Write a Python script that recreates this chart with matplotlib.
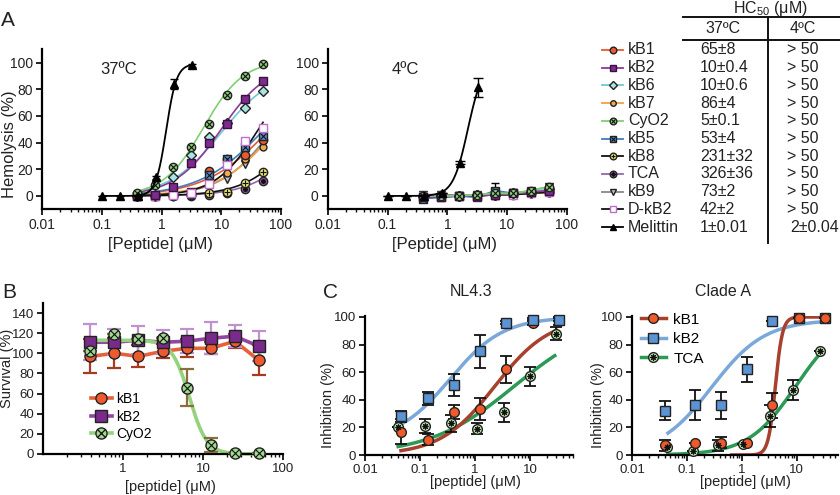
import numpy as np
import matplotlib
matplotlib.use('Agg')
import matplotlib.pyplot as plt
from matplotlib.lines import Line2D
from matplotlib.ticker import FixedLocator, FixedFormatter, LogLocator, NullFormatter
from matplotlib.legend_handler import HandlerTuple

plt.rcParams['font.family'] = ['Liberation Sans', 'DejaVu Sans']
plt.rcParams['mathtext.fontset'] = 'custom'
plt.rcParams['mathtext.rm'] = 'Liberation Sans'
plt.rcParams['mathtext.it'] = 'Liberation Sans:italic'

# ------------------------------------------------------------------ data
peptides = ['kB1', 'kB2', 'kB6', 'kB7', 'CyO2', 'kB5', 'kB8', 'TCA', 'kB9', 'D-kB2']
table_names = ['kB1', 'kB2', 'kB6', 'kB7', 'CyO2', 'kB5', 'kB8', 'TCA', 'kB9', 'D-kB2', 'Melittin']
hc50_37 = ['65±8', '10±0.4', '10±0.6', '86±4', '5±0.1', '53±4', '231±32', '326±36', '73±2', '42±2', '1±0.01']
hc50_4 = ['> 50', '> 50', '> 50', '> 50', '> 50', '> 50', '> 50', '> 50', '> 50', '> 50', '2±0.04']

conc_A = [0.39, 0.78, 1.56, 3.125, 6.25, 12.5, 25, 50]
conc_mel = [0.1, 0.2, 0.4, 0.8, 1.6, 3.2]

# hemolysis at 37 C (%)
h37_kB1 = [0, 0, 1, 2, 19, 28, 31, 42]
h37_kB2 = [0, 1, 7, 25, 40, 54, 73, 86]
h37_kB6 = [0, 1, 14, 31, 44, 55, 66, 79]
h37_kB7 = [0, 0, 0, 1, 12, 17, 28, 37]
h37_CyO2 = [2, 8, 22, 37, 54, 76, 90, 99]
h37_kB5 = [0, 0, 1, 3, 16, 28, 37, 45]
h37_kB8 = [0, 0, 0, 1, 2, 3, 10, 18]
h37_TCA = [0, 0, 0, 0, 1, 2, 5, 11]
h37_kB9 = [0, 0, 0, 1, 10, 13, 24, 40]
h37_DkB2 = [0, 0, 1, 2.5, 9, 23, 41, 51]
h37_mel = [0, 0, 0, 14, 84, 98]
h37_mel_err = [0, 0, 0, 1, 4, 1]

# hemolysis at 4 C (%)
h4_kB1 = [0, 0, 0, 0.5, 1, 1.5, 2, 3]
h4_kB2 = [-1, -1, 0, 0, 1, 2, 3, 4]
h4_kB6 = [0, 0, 0, 1, 1, 2, 3, 5]
h4_kB7 = [0, 0, 0, 0, 1, 1, 2, 3]
h4_CyO2 = [0, 0, 0, 1, 2, 2, 4, 7]
h4_kB5 = [-2, -1, 0, -1, 4, 2, 3, 4]
h4_kB8 = [0, 1, 0, 1, 1, 1, 2, 3]
h4_TCA = [-1, 0, 0, 1, 1, 2, 2, 3]
h4_kB9 = [1, 1, 0, 1, 2, 2, 4, 7]
h4_DkB2 = [0, 0, 0, 0, 1, 1, 2, 3]
h4_mel = [0, 0, 0, 2, 25, 81.5]
h4_mel_err = [0, 0, 0, 0, 1, 7]
h4_kB5_err = [0, 0, 0, 0, 6, 0, 0, 0]

# fitted dose-response parameters: [bottom, top, EC50, hill]
fit37_kB1 = [0, 100, 65, 0.8]
fit37_kB2 = [0, 100, 10, 1.1]
fit37_kB6 = [0, 95, 10, 1.0]
fit37_kB7 = [0, 100, 86, 0.9]
fit37_CyO2 = [0, 102, 5, 1.3]
fit37_kB5 = [0, 100, 53, 0.8]
fit37_kB8 = [0, 100, 231, 1.0]
fit37_TCA = [0, 100, 326, 1.0]
fit37_kB9 = [0, 100, 73, 1.0]
fit37_DkB2 = [0, 100, 42, 1.2]
fit37_mel = [0, 99, 1.2, 5]
fit4_mel = [0, 100, 2.2, 3.5]

# cell survival (%)
conc_B = [0.39, 0.78, 1.56, 3.125, 6.25, 12.5, 25, 50]
surv_kB1 = [97, 100, 97, 102, 105, 105, 112, 93]
surv_kB1_err = [17, 15, 11, 7, 9, 6, 7, 15]
surv_kB2 = [111, 111, 113, 111, 112, 115, 117, 107]
surv_kB2_err = [18, 13, 14, 12, 12, 16, 11, 15]
surv_CyO2 = [102, 119, 114, 115, 66, 9, 0.5, 0.5]
surv_CyO2_err = [0, 0, 0, 0, 18, 7, 0, 0]
fitB_CyO2 = [0, 113, 6.75, -4]

# HIV inhibition NL4.3 (%)
c1_conc = [0.046, 0.137, 0.41, 1.23, 3.7, 11.1, 33.3]
c1_conc_TCA = [0.04, 0.123, 0.37, 1.1, 3.3, 10, 30]
c1_kB1 = [17, 11, 31, 33, 62, 96, 97]
c1_kB1_err = [9, 4, 5, 8, 10, 2, 3]
c1_kB2 = [28, 41, 51, 75, 96, 98, 98]
c1_kB2_err = [4, 5, 8, 12, 1, 1, 1]
c1_TCA = [20.5, 21, 23, 19, 31, 57, 88]
c1_TCA_err = [0, 5, 6, 4, 7, 7, 5]
fitC1_kB1 = [0, 100, 2.3, 0.87]
fitC1_kB2 = [10, 100, 0.35, 0.9]
fitC1_TCA = [0, 100, 5.2, 0.56]

# HIV inhibition Clade A (%)
c2_conc = [0.04, 0.14, 0.42, 1.25, 3.6, 11, 33]
c2_conc_TCA = [0.043, 0.13, 0.37, 1.05, 3.2, 8.5, 26]
c2_kB1 = [7, 8.5, 9, 8.5, 36, 99, 99]
c2_kB1_err = [4, 0, 4, 0, 9, 0, 0]
c2_kB2 = [32, 36, 36, 62, 97, 99, 99]
c2_kB2_err = [7, 11, 10, 9, 0, 0, 0]
c2_TCA = [6, 3, 7, 8, 28, 47, 75]
c2_TCA_err = [0, 0, 4, 0, 8, 7, 0]
fitC2_kB1 = [0, 100, 4.06, 6.7]
fitC2_kB2 = [0, 98, 0.28, 0.9]
fitC2_TCA = [0, 100, 9.6, 1.0]

h37 = dict(zip(peptides, [h37_kB1, h37_kB2, h37_kB6, h37_kB7, h37_CyO2, h37_kB5,
                          h37_kB8, h37_TCA, h37_kB9, h37_DkB2]))
h4 = dict(zip(peptides, [h4_kB1, h4_kB2, h4_kB6, h4_kB7, h4_CyO2, h4_kB5,
                         h4_kB8, h4_TCA, h4_kB9, h4_DkB2]))
fit37 = dict(zip(peptides, [fit37_kB1, fit37_kB2, fit37_kB6, fit37_kB7, fit37_CyO2,
                            fit37_kB5, fit37_kB8, fit37_TCA, fit37_kB9, fit37_DkB2]))


def hill(x, bottom, top, ec50, n):
    x = np.asarray(x, float)
    return bottom + (top - bottom) / (1.0 + (ec50 / x) ** n)


def grid(lo, hi):
    return np.logspace(np.log10(lo), np.log10(hi), 300)


# ------------------------------------------------------------------ styles
STY = {
    'kB1': dict(line='#e65a32', fc='#ec5a2c', ec='#222222', m='o', ms=6.0, over=None),
    'kB2': dict(line='#8b3a98', fc='#7b2c8c', ec='#3a1040', m='s', ms=6.0, over=None),
    'kB6': dict(line='#70c8d0', fc='#a8e4e4', ec='#222222', m='D', ms=5.2, over=None),
    'kB7': dict(line='#f0a040', fc='#f5a94e', ec='#222222', m='o', ms=5.0, over=None),
    'CyO2': dict(line='#7fcf72', fc='#8fd07a', ec='#222222', m='o', ms=6.0, over='x'),
    'kB5': dict(line='#3f7cc0', fc='#5a8fcc', ec='#222222', m='s', ms=6.0, over='x'),
    'kB8': dict(line='#111111', fc='#e8e46a', ec='#222222', m='o', ms=6.0, over='+'),
    'TCA': dict(line='#9a66aa', fc='#9a5aaa', ec='#222222', m='o', ms=6.0, over=(8, 2, 0)),
    'kB9': dict(line='#888888', fc='#c4c4c4', ec='#222222', m='v', ms=6.0, over=None),
    'D-kB2': dict(line='#111111', fc='#ffffff', ec='#c070c8', m='s', ms=6.0, over=None),
    'Melittin': dict(line='#000000', fc='#000000', ec='#000000', m='^', ms=6.0, over=None),
}
draw_order = ['TCA', 'kB8', 'kB9', 'kB7', 'kB1', 'kB5', 'D-kB2', 'kB6', 'kB2', 'CyO2']

W, H = 840, 495
fig = plt.figure(figsize=(W / 100, H / 100), dpi=100)


def px_axes(l, t, r, b):
    return fig.add_axes([l / W, 1 - b / H, (r - l) / W, (b - t) / H])


def style_axes(ax, xlim, ylim, yticks, xticks, xlabels, tsize=10):
    ax.set_xscale('log')
    ax.set_xlim(*xlim)
    ax.set_ylim(*ylim)
    for sp in ['top', 'right']:
        ax.spines[sp].set_visible(False)
    for sp in ['left', 'bottom']:
        ax.spines[sp].set_linewidth(1.6)
    ax.set_yticks(yticks)
    ax.xaxis.set_major_locator(FixedLocator(xticks))
    ax.xaxis.set_major_formatter(FixedFormatter(xlabels))
    ax.xaxis.set_minor_locator(LogLocator(base=10, subs=np.arange(2, 10), numticks=30))
    ax.xaxis.set_minor_formatter(NullFormatter())
    ax.tick_params(which='major', direction='out', length=4.5, width=1.3,
                   labelsize=tsize, pad=2, color='#111111', labelcolor='#222222')
    ax.tick_params(which='minor', direction='out', length=2.5, width=1.0, color='#111111')
    ax.patch.set_visible(False)


def marker(ax, x, y, s, scale=1.0, z=3):
    ax.plot(x, y, ls='none', marker=s['m'], ms=s['ms'] * scale, mfc=s['fc'],
            mec=s['ec'], mew=1.0, zorder=z, clip_on=False)
    if s['over'] is not None:
        osz = 0.72 if s['over'] != (8, 2, 0) else 0.6
        ax.plot(x, y, ls='none', marker=s['over'], ms=s['ms'] * scale * osz,
                mec='#111111', mew=0.8, zorder=z + 0.1, clip_on=False)


# ------------------------------------------------------------------ panel A
axA1 = px_axes(42, 49.3, 281, 209.3)
axA2 = px_axes(327.7, 49.3, 567, 209.3)
for ax in (axA1, axA2):
    style_axes(ax, (0.01, 100), (-10, 110), [0, 20, 40, 60, 80, 100],
               [0.01, 0.1, 1, 10, 100], ['0.01', '0.1', '1', '10', '100'], tsize=10)

# 37 C
for i, name in enumerate(draw_order):
    s = STY[name]
    xx = grid(conc_A[0], conc_A[-1])
    axA1.plot(xx, hill(xx, *fit37[name]), color=s['line'], lw=1.2, zorder=2)
for i, name in enumerate(draw_order):
    marker(axA1, conc_A, h37[name], STY[name], z=3 + i * 0.2)
xx = grid(conc_mel[0], conc_mel[-1])
axA1.plot(xx, hill(xx, *fit37_mel), color='k', lw=1.3, zorder=5)
axA1.errorbar(conc_mel, h37_mel, yerr=h37_mel_err, fmt='none', ecolor='k',
              elinewidth=1.0, capsize=3, capthick=1.0, zorder=5)
marker(axA1, conc_mel, h37_mel, STY['Melittin'], z=6)
axA1.text(0.093, 94.5, '37ºC', fontsize=12, ha='left', va='center', color='#222222')

# 4 C
for i, name in enumerate(draw_order):
    s = STY[name]
    axA2.plot(conc_A, h4[name], color=s['line'], lw=1.3, zorder=2)
axA2.errorbar(conc_A, h4_kB5, yerr=h4_kB5_err, fmt='none', ecolor='k',
              elinewidth=1.0, capsize=3, capthick=1.0, zorder=3)
for i, name in enumerate(draw_order):
    marker(axA2, conc_A, h4[name], STY[name], z=3 + i * 0.2)
xx = grid(conc_mel[0], conc_mel[-1])
axA2.plot(xx, hill(xx, *fit4_mel), color='k', lw=1.3, zorder=5)
axA2.errorbar(conc_mel, h4_mel, yerr=h4_mel_err, fmt='none', ecolor='k',
              elinewidth=1.0, capsize=3.5, capthick=1.0, zorder=5)
marker(axA2, conc_mel, h4_mel, STY['Melittin'], z=6)
axA2.text(0.118, 94.5, '4ºC', fontsize=12, ha='left', va='center', color='#222222')

axA1.set_ylabel('Hemolysis (%)', fontsize=12, color='#222222')
axA1.yaxis.set_label_coords(-0.134, 0.41)
axA1.yaxis.label.set_va('center')
for ax, xc in ((axA1, 0.494), (axA2, 0.49)):
    ax.set_xlabel('[Peptide] (μM)', fontsize=12, color='#222222')
    ax.xaxis.set_label_coords(xc, -0.223)
    ax.xaxis.label.set_va('center')

# ------------------------------------------------------------------ panel B
axB = px_axes(43, 303, 283, 454)
style_axes(axB, (0.1, 100), (0, 150), [0, 20, 40, 60, 80, 100, 120, 140],
           [1, 10, 100], ['1', '10', '100'], tsize=9.5)
colB = {'kB1': ('#e8603a', '#ee5a30', '#a83a22'),
        'kB2': ('#9444a4', '#7a2a8a', '#bf92cf'),
        'CyO2': ('#94d27e', '#a2d890', '#8a6d3a')}
axB.plot(conc_B, surv_kB1, color=colB['kB1'][0], lw=2.6, zorder=2, clip_on=False)
axB.plot(conc_B, surv_kB2, color=colB['kB2'][0], lw=2.6, zorder=2, clip_on=False)
xx = grid(conc_B[0], conc_B[-1])
axB.plot(xx, hill(xx, *fitB_CyO2), color=colB['CyO2'][0], lw=2.6, zorder=2, clip_on=False)
for y, e, key, m, ovm in ((surv_kB1, surv_kB1_err, 'kB1', 'o', None),
                          (surv_kB2, surv_kB2_err, 'kB2', 's', None),
                          (surv_CyO2, surv_CyO2_err, 'CyO2', 'o', 'x')):
    axB.errorbar(conc_B, y, yerr=e, fmt='none', ecolor=colB[key][2], elinewidth=1.6,
                 capsize=5, capthick=1.6, zorder=3, clip_on=False)
    sB = dict(m=m, fc=colB[key][1], ec='#222222', ms=8.0, over=ovm)
    marker(axB, conc_B, y, sB, z=4)
hB = []
for key, m, ovm in (('kB1', 'o', None), ('kB2', 's', None), ('CyO2', 'o', 'x')):
    base = Line2D([], [], color=colB[key][0], lw=2.6, marker=m, ms=8, mfc=colB[key][1],
                  mec='#222222', mew=1.0)
    if ovm:
        hB.append((base, Line2D([], [], ls='none', marker=ovm, ms=5.8, mec='#111111', mew=0.9)))
    else:
        hB.append((base,))
axB.legend(hB, ['kB1', 'kB2', 'CyO2'], loc='upper left', bbox_to_anchor=(0.2, 0.41),
           frameon=False, fontsize=10, handlelength=1.5, handletextpad=0.3,
           labelspacing=0.25, borderpad=0, borderaxespad=0,
           handler_map={tuple: HandlerTuple(ndivide=1)})
axB.set_xlabel('[peptide] (μM)', fontsize=10.5, color='#222222')
axB.xaxis.set_label_coords(0.53, -0.22)
axB.xaxis.label.set_va('center')
axB.set_ylabel('Survival (%)', fontsize=10.5, color='#222222')
axB.yaxis.set_label_coords(-0.152, 0.57)
axB.yaxis.label.set_va('center')

# ------------------------------------------------------------------ panel C
colC = {'kB1': ('#a8402e', '#ee5a2a', 'o', None),
        'kB2': ('#7aa8d8', '#5b93d3', 's', None),
        'TCA': ('#2a9a55', '#b8e0a8', 'o', (8, 2, 0))}


def draw_C(ax, series):
    for key, xs, ys, es, fit in series:
        line, fc, m, ovm = colC[key]
        xx = grid(fit[4], fit[5])
        ax.plot(xx, hill(xx, *fit[:4]), color=line, lw=2.5, zorder=2)
    for key, xs, ys, es, fit in series:
        line, fc, m, ovm = colC[key]
        ax.errorbar(xs, ys, yerr=es, fmt='none', ecolor='#111111', elinewidth=1.3,
                    capsize=4.5, capthick=1.3, zorder=3, clip_on=False)
        sC = dict(m=m, fc=fc, ec='#222222', ms=7.0, over=ovm)
        marker(ax, xs, ys, sC, z=4)


axC1 = px_axes(365, 315.6, 573, 455)
axC2 = px_axes(632, 315.6, 838, 455)
style_axes(axC1, (0.01, 60), (0, 101), [0, 20, 40, 60, 80, 100],
           [0.01, 0.1, 1, 10], ['0.01', '0.1', '1', '10'], tsize=9.5)
style_axes(axC2, (0.01, 56), (0, 101), [0, 20, 40, 60, 80, 100],
           [0.01, 0.1, 1, 10], ['0.01', '0.1', '1', '10'], tsize=9.5)
draw_C(axC1, [('TCA', c1_conc_TCA, c1_TCA, c1_TCA_err, fitC1_TCA + [0.04, 28]),
              ('kB1', c1_conc, c1_kB1, c1_kB1_err, fitC1_kB1 + [0.045, 30]),
              ('kB2', c1_conc, c1_kB2, c1_kB2_err, fitC1_kB2 + [0.046, 33.3])])
draw_C(axC2, [('TCA', c2_conc_TCA, c2_TCA, c2_TCA_err, fitC2_TCA + [0.045, 26]),
              ('kB2', c2_conc, c2_kB2, c2_kB2_err, fitC2_kB2 + [0.045, 33]),
              ('kB1', c2_conc, c2_kB1, c2_kB1_err, fitC2_kB1 + [0.65, 33])])
hC = []
for key in ('kB1', 'kB2', 'TCA'):
    line, fc, m, ovm = colC[key]
    base = Line2D([], [], color=line, lw=2.5, marker=m, ms=7, mfc=fc, mec='#222222', mew=1.0)
    if ovm:
        hC.append((base, Line2D([], [], ls='none', marker=ovm, ms=4.5, mec='#111111', mew=0.8)))
    else:
        hC.append((base,))
axC2.legend(hC, ['kB1', 'kB2', 'TCA'], loc='upper left', bbox_to_anchor=(0.044, 1.02),
            frameon=False, fontsize=11, handlelength=1.6, handletextpad=0.5,
            labelspacing=0.35, borderpad=0, borderaxespad=0,
            handler_map={tuple: HandlerTuple(ndivide=1)})
for ax, xc, yc in ((axC1, 0.53, -0.178), (axC2, 0.55, -0.165)):
    ax.set_xlabel('[peptide] (μM)', fontsize=10.5, color='#222222')
    ax.xaxis.set_label_coords(xc, -0.194)
    ax.xaxis.label.set_va('center')
    ax.set_ylabel('Inhibition (%)', fontsize=10.5, color='#222222')
    ax.yaxis.set_label_coords(yc, 0.36)
    ax.yaxis.label.set_va('center')

# ------------------------------------------------------------------ overlay (pixel coords)
ov = fig.add_axes([0, 0, 1, 1], zorder=10)
ov.set_xlim(0, W)
ov.set_ylim(H, 0)
ov.axis('off')

ov.text(8, 21, 'A', fontsize=15, ha='center', va='center', color='#222222')
ov.text(9, 292, 'B', fontsize=15, ha='center', va='center', color='#222222')
ov.text(330, 292, 'C', fontsize=15, ha='center', va='center', color='#222222')
ov.text(471, 292, 'NL4.3', fontsize=11.5, ha='center', va='center', color='#222222')
ov.text(723, 292, 'Clade A', fontsize=11.5, ha='center', va='center', color='#222222')

# HC50 table
tfs = 11.5
ov.text(770, 9, 'HC$_{\\mathregular{50}}$ (μM)', fontsize=tfs, ha='center', va='center', color='#222222')
ov.plot([683, 840], [17, 17], color='#111111', lw=1.4)
ov.plot([683, 840], [40, 40], color='#111111', lw=1.4)
ov.plot([768, 768], [17, 243], color='#111111', lw=1.4)
ov.text(723, 28.5, '37ºC', fontsize=tfs, ha='center', va='center', color='#222222')
ov.text(803, 28.5, '4ºC', fontsize=tfs, ha='center', va='center', color='#222222')
for i, name in enumerate(table_names):
    y = 50 + 17.7 * i
    s = STY[name]
    ov.plot([602, 623], [y, y], color=s['line'], lw=1.3, zorder=1)
    marker(ov, [612.5], [y], s, scale=0.8, z=2)
    ov.text(628, y, name, fontsize=tfs, ha='left', va='center', color='#222222')
    ov.text(700, y, hc50_37[i], fontsize=tfs, ha='left', va='center', color='#222222')
    if hc50_4[i].startswith('>'):
        ov.text(787, y, hc50_4[i], fontsize=tfs, ha='left', va='center', color='#222222')
    else:
        ov.text(839, y, hc50_4[i], fontsize=tfs, ha='right', va='center', color='#222222')

fig.savefig('out.png', dpi=100)
